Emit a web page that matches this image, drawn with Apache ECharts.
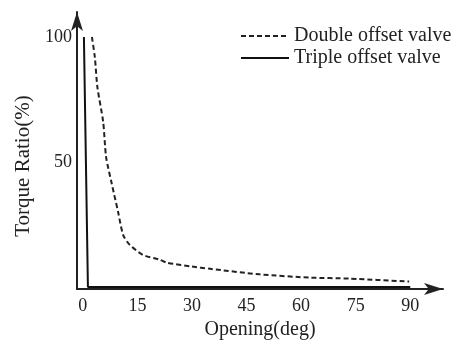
<!DOCTYPE html>
<html>
<head>
<meta charset="utf-8">
<script src="https://cdn.jsdelivr.net/npm/echarts@6/dist/echarts.min.js"></script>
<style>
  html, body { margin: 0; padding: 0; background: #fff; }
  #chart { width: 452px; height: 345px; }
</style>
</head>
<body>
<div id="chart"></div>
<script>
// opening angle (deg) / torque ratio (%)
const doubleDeg = [2.5, 3.3, 4.0, 5.6, 6.4, 7.9, 9.7, 11.1, 12.9, 16.5, 21.1, 23, 30, 35, 48.6, 62.3, 73.3, 89.7];
const doubleVal = [100, 92, 80, 66, 52, 41.7, 30, 20.8, 16.9, 12.9, 11, 9.8, 8.2, 7.3, 5.1, 3.8, 3.4, 2.2];
const tripleDeg = [0.3, 1.4, 90];
const tripleVal = [100, 0, 0];
const xTicks = [0, 15, 30, 45, 60, 75, 90];
const yTicks = [50, 100];

const font = 'Liberation Serif';
const ink = '#222';

let chart = echarts.init(document.getElementById('chart'));

let option = {
    animation: false,
    grid: { left: 77, right: 9, top: 12, bottom: 50 },
    legend: {
        orient: 'vertical',
        left: 235,
        top: 21,
        itemWidth: 48,
        itemHeight: 12,
        itemGap: 2,
        itemStyle: { opacity: 0 },
        textStyle: { fontFamily: font, fontSize: 20, color: ink },
        data: ['Double offset valve', 'Triple offset valve']
    },
    xAxis: {
        type: 'value',
        min: -1.6,
        max: 99,
        name: 'Opening(deg)',
        nameLocation: 'middle',
        nameGap: 27,
        nameTextStyle: { fontFamily: font, fontSize: 20, color: ink },
        axisLine: {
            onZero: false,
            lineStyle: { color: ink, width: 2 },
            symbol: ['none', 'arrow'],
            symbolSize: [9, 19]
        },
        axisTick: { show: false },
        splitLine: { show: false },
        axisLabel: {
            customValues: xTicks,
            margin: 8,
            fontFamily: font, fontSize: 18, color: ink
        }
    },
    yAxis: {
        type: 'value',
        min: -0.8,
        max: 110,
        name: 'Torque Ratio(%)',
        nameLocation: 'middle',
        nameGap: 40,
        nameTextStyle: { fontFamily: font, fontSize: 21, color: ink, padding: [0, 31, 0, 0] },
        axisLine: {
            onZero: false,
            lineStyle: { color: ink, width: 2 },
            symbol: ['none', 'arrow'],
            symbolSize: [9, 19]
        },
        axisTick: { show: false },
        splitLine: { show: false },
        axisLabel: {
            customValues: yTicks,
            margin: 5,
            fontFamily: font, fontSize: 18, color: ink
        }
    },
    series: [
        {
            name: 'Double offset valve',
            type: 'line',
            symbol: 'none',
            smooth: 0.25,
            lineStyle: { color: ink, width: 2, type: [5, 3] },
            itemStyle: { color: ink },
            data: doubleDeg.map((d, i) => [d, doubleVal[i]])
        },
        {
            name: 'Triple offset valve',
            type: 'line',
            symbol: 'none',
            lineStyle: { color: '#111', width: 2 },
            itemStyle: { color: '#111' },
            data: tripleDeg.map((d, i) => [d, tripleVal[i]])
        }
    ]
};
chart.setOption(option);
</script>
</body>
</html>
